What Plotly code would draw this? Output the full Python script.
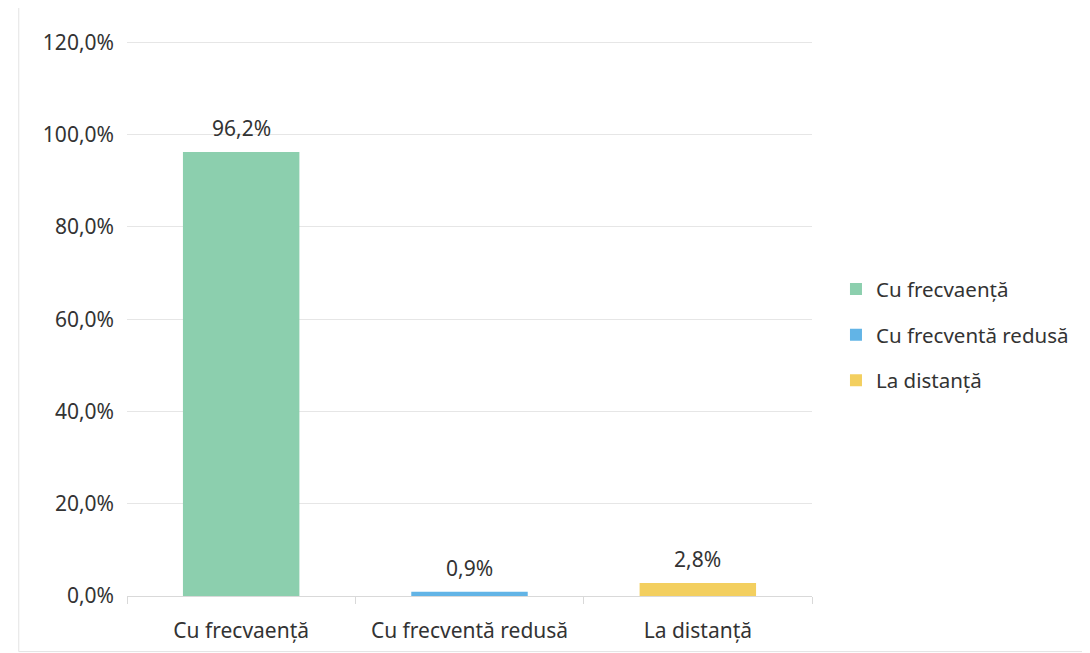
import plotly.graph_objects as go

categories = ["Cu frecvaență", "Cu frecventă redusă", "La distanță"]
values = [0.962, 0.009, 0.028]
labels = ["96,2%", "0,9%", "2,8%"]
colors = ["#8ccfae", "#62b4e6", "#f3cf5f"]

fig = go.Figure()
for i, (cat, val, lab, col) in enumerate(zip(categories, values, labels, colors)):
    fig.add_trace(go.Bar(
        x=[cat], y=[val], name=cat, legendgroup=str(i),
        marker=dict(color=col, line=dict(width=0)), width=0.51,
    ))
    fig.add_annotation(x=cat, y=val, text=lab, showarrow=False, yanchor="bottom",
                       yshift=8, font=dict(size=21, color="#333333"))

fig.update_layout(
    width=1090, height=653,
    barmode="overlay",
    separators=", ",
    paper_bgcolor="white", plot_bgcolor="white",
    margin=dict(l=119, r=286, t=32, b=65, autoexpand=False),
    font=dict(family="Noto Sans, Open Sans, sans-serif", size=21, color="#333333"),
    legend=dict(x=1.035, y=0.47, yanchor="middle", xanchor="left",
                font=dict(size=20.5), tracegroupgap=16),
    showlegend=True,
    xaxis=dict(type="category", categoryorder="array", categoryarray=categories,
               tickson="boundaries", ticks="outside", ticklen=7, tickcolor="#d9d9d9",
               showline=True, linecolor="#d9d9d9", linewidth=1, showgrid=False,
               tickfont=dict(size=21), ticklabelstandoff=16),
    yaxis=dict(range=[0, 1.205], dtick=0.2, tickformat=".1%", showgrid=True,
               gridcolor="#e6e6e6", zeroline=False, showline=False,
               ticks="", ticklabelstandoff=12, tickfont=dict(size=21)),
    shapes=[dict(type="rect", xref="paper", yref="paper", x0=-0.158, x1=1.4,
                 y0=-0.1, y1=1.06, line=dict(color="#e3e3e3", width=1))],
)

fig.write_html("out.html")
